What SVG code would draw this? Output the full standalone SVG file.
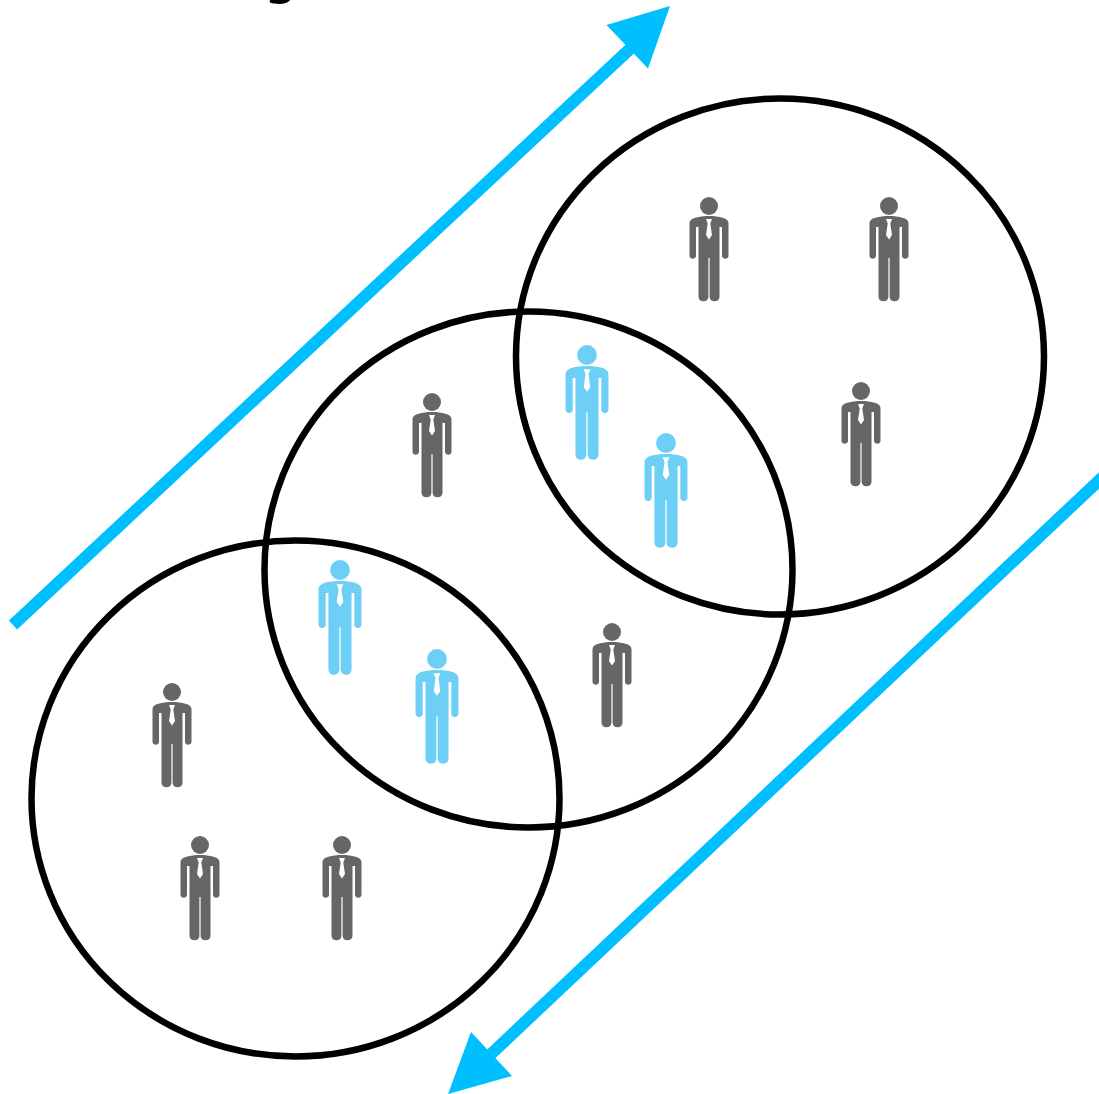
<svg xmlns="http://www.w3.org/2000/svg" width="1099" height="1094" viewBox="0 0 1099 1094">
<style>
.ring{fill:none;stroke:#000;stroke-width:6.500}
.shaft{fill:none;stroke:#00bfff;stroke-width:12}
.head{fill:#00bfff}
.grey{fill:#666}
.blue{fill:#6dcff6}
.caption{font-family:"DejaVu Sans",sans-serif;font-size:56px;fill:#000}
</style>
<defs>
<g id="person">
<circle cx="0" cy="0" r="9"/>
<path d="M0 10C10 10 19.500 12 19.500 17V50A3.300 3.300 0 0 1 13 50V21H10.500V91A5 5 0 0 1 .6 91V52H-.6V91A5 5 0 0 1-10.500 91V21H-13V50A3.300 3.300 0 0 1-19.500 50V17C-19.500 12-10 10 0 10Z"/>
<path fill="#fff" d="M-3 13H3L1.300 17.500L3 29L0 33.500L-3 29L-1.300 17.500Z"/>
</g>
</defs>
<rect width="1099" height="1094" fill="#fff"/>
<text class="caption" x="263" y="-8">g</text>
<g id="circles">
<ellipse id="circle-top" class="ring" cx="780" cy="356.500" rx="264" ry="258"/>
<ellipse id="circle-middle" class="ring" cx="528.500" cy="569.500" rx="264" ry="258"/>
<ellipse id="circle-bottom" class="ring" cx="295.500" cy="798.500" rx="264" ry="258"/>
</g>
<g id="connectors">
<path class="shaft" d="M13 625L632 47"/>
<polygon class="head" points="670,6 606.500,25 648,68.500"/>
<path class="shaft" d="M1110 470L490 1055"/>
<polygon class="head" points="448,1094 471,1032 512,1076"/>
</g>
<g id="person-1" class="grey"><use href="#person" transform="translate(709 206)"/></g>
<g id="person-2" class="grey"><use href="#person" transform="translate(889 206)"/></g>
<g id="person-3" class="grey"><use href="#person" transform="translate(861 391)"/></g>
<g id="person-4" class="grey"><use href="#person" transform="translate(432 402)"/></g>
<g id="person-5" class="grey"><use href="#person" transform="translate(612 632)"/></g>
<g id="person-6" class="grey"><use href="#person" transform="translate(172 692)"/></g>
<g id="person-7" class="grey"><use href="#person" transform="translate(200 845)"/></g>
<g id="person-8" class="grey"><use href="#person" transform="translate(342 845)"/></g>
<g id="person-9" class="blue"><use href="#person" transform="translate(587 355) scale(1.1)"/></g>
<g id="person-10" class="blue"><use href="#person" transform="translate(666 443) scale(1.1)"/></g>
<g id="person-11" class="blue"><use href="#person" transform="translate(340 570) scale(1.1)"/></g>
<g id="person-12" class="blue"><use href="#person" transform="translate(437 659) scale(1.1)"/></g>
</svg>
